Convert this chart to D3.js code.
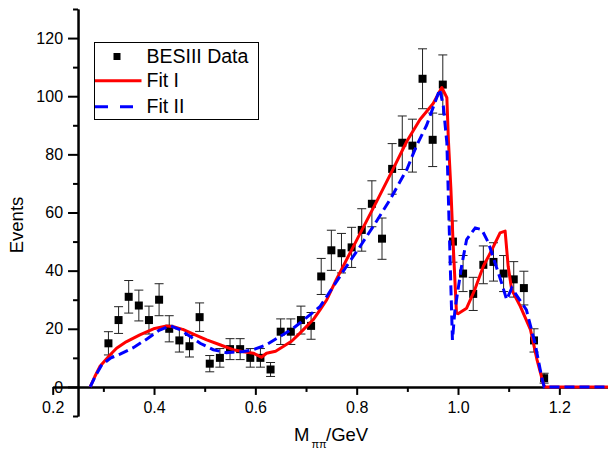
<!DOCTYPE html>
<html><head><meta charset="utf-8">
<script src="https://cdn.jsdelivr.net/npm/d3@7"></script>
<style>
body{margin:0;background:#fff;}
svg{display:block;font-family:Arial,"Liberation Sans",sans-serif;}
</style></head>
<body>
<svg id="chart" width="608" height="455"></svg>
<script>
// ---- data ----
const massBins = [0.31,0.33,0.35,0.37,0.39,0.41,0.43,0.45,0.47,0.49,0.51,0.53,0.55,0.57,0.59,0.61,0.63,0.65,0.67,0.69,0.71,0.73,0.75,0.77,0.79,0.81,0.83,0.85,0.87,0.89,0.91,0.93,0.95,0.97,0.99,1.01,1.03,1.05,1.07,1.09,1.11,1.13,1.15,1.17];
const events   = [15,23,31,28,23,30,20,16,14,24,8,10,13,13,10,10,6,19,19,23,21,38,47,46,48,54,63,51,75,84,83,106,85,104,50,39,32,42,43,39,37,34,16,3];
const errors   = [4,4.6,5.6,5.3,4.8,5.5,4.5,4,3.7,4.9,2.8,3.2,3.6,3.6,3.2,3.2,2.4,4.4,4.4,4.8,4.6,6.2,6.9,6.8,6.9,7.3,7.9,7.1,8.7,9.2,9.1,10.3,9.2,10.2,7.1,6.2,5.7,6.5,6.6,6.2,6.1,5.8,4,1.7];

const fit1X = [0.274,0.283,0.293,0.313,0.326,0.345,0.372,0.399,0.425,0.440,0.458,0.480,0.504,0.530,0.556,0.580,0.596,0.612,0.622,0.640,0.655,0.672,0.688,0.714,0.728,0.741,0.760,0.800,0.840,0.872,0.899,0.925,0.951,0.968,0.978,0.981,0.986,0.990,0.997,1.000,1.017,1.033,1.050,1.067,1.083,1.093,1.099,1.106,1.123,1.143,1.156,1.169,1.172,1.300];
const fit1Y = [0,3.5,7,11,13.3,15.5,17.9,20,21,20.6,19.7,18,16.2,14.5,12.8,12,11.6,10.2,11.6,12.3,13.9,15.8,18.5,23.1,26.6,30,37,50.5,64,75,84.5,92,97.5,103,99.5,85,68,50.7,25.4,25.2,27.1,33.4,41.5,47.2,53,53.6,41.5,33.4,27.7,19.7,9.3,0.7,0,0];

const fit2X = [0.274,0.285,0.297,0.315,0.333,0.359,0.386,0.410,0.432,0.451,0.471,0.491,0.517,0.543,0.576,0.596,0.622,0.649,0.675,0.688,0.728,0.754,0.780,0.807,0.833,0.866,0.899,0.918,0.938,0.964,0.971,0.978,0.985,0.989,0.994,1.007,1.017,1.034,1.047,1.060,1.073,1.086,1.096,1.106,1.135,1.152,1.165,1.170,1.300];
const fit2Y = [0,4,7.6,10,11.3,13.5,16.5,19.5,21,19.7,17.4,15,12.8,11.8,12.2,12.8,14.5,17.4,20.2,22,27.7,34.6,41.5,48.4,55.3,64.5,74.8,82.9,90,102.4,96.6,84,40,16.2,26.5,41.5,50.7,54.7,54.1,49.6,42.7,35.8,30,34,26.5,15,3.5,0,0];

const xMajorTicks = [0.2,0.4,0.6,0.8,1.0,1.2];
const xMinorTicks = [0.3,0.5,0.7,0.9,1.1,1.3];
const yMajorTicks = [0,20,40,60,80,100,120];
const yMinorTicks = [-10,10,30,50,70,90,110,130];

const legendLabels = ["BESIII Data","Fit I","Fit II"];

// ---- scales ----
const svg = d3.select("#chart");
const x = d3.scaleLinear().domain([0.2,1.3]).range([52.7,610]);
const y = d3.scaleLinear().domain([-10,130]).range([416,9]);
const xAxisAt = 0.25;

// ---- axes ----
const fmt = d3.format(".1f");
const gxMinor = svg.append("g").attr("transform",`translate(0,${y(0)})`)
  .call(d3.axisBottom(x).tickValues(xMinorTicks).tickSize(5).tickSizeOuter(0).tickFormat(""));
const gx = svg.append("g").attr("transform",`translate(0,${y(0)})`)
  .call(d3.axisBottom(x).tickValues(xMajorTicks).tickSize(8).tickSizeOuter(0).tickPadding(7).tickFormat(fmt));
const gyMinor = svg.append("g").attr("transform",`translate(${x(xAxisAt)},0)`)
  .call(d3.axisLeft(y).tickValues(yMinorTicks).tickSize(5).tickSizeOuter(0).tickFormat(""));
const gy = svg.append("g").attr("transform",`translate(${x(xAxisAt)},0)`)
  .call(d3.axisLeft(y).tickValues(yMajorTicks).tickSize(10).tickSizeOuter(0).tickPadding(5).tickFormat(d3.format("d")));

[gx,gxMinor,gy,gyMinor].forEach(g=>{
  g.selectAll("path.domain").attr("stroke","#000").attr("stroke-width",2);
  g.selectAll(".tick line").attr("stroke","#000").attr("stroke-width",2);
  g.selectAll("text").attr("fill","#000").style("font-size","16px").style("font-family","Arial,'Liberation Sans',sans-serif");
});

// axis titles
svg.append("text").attr("transform","translate(23,225) rotate(-90)")
  .attr("text-anchor","middle").style("font-size","18.5px").attr("fill","#000").text("Events");
const xt = svg.append("text").attr("fill","#000").style("font-size","18.5px");
xt.append("tspan").attr("x",294).attr("y",440.5).text("M");
xt.append("tspan").attr("x",311.5).attr("y",448).style("font-size","11px").text("ππ");
xt.append("tspan").attr("x",326).attr("y",440.5).text("/GeV");

// ---- data points with error bars ----
const pts = svg.append("g");
massBins.forEach((m,i)=>{
  const cx = x(m), v = events[i], e = errors[i];
  pts.append("line").attr("x1",cx).attr("x2",cx).attr("y1",y(v-e)).attr("y2",y(v+e)).attr("stroke","#222").attr("stroke-width",1);
  pts.append("line").attr("x1",cx-4.5).attr("x2",cx+4.5).attr("y1",y(v+e)).attr("y2",y(v+e)).attr("stroke","#222").attr("stroke-width",1);
  pts.append("line").attr("x1",cx-4.5).attr("x2",cx+4.5).attr("y1",y(v-e)).attr("y2",y(v-e)).attr("stroke","#222").attr("stroke-width",1);
  pts.append("rect").attr("x",cx-4).attr("y",y(v)-4).attr("width",8).attr("height",8).attr("fill","#000");
});

// ---- fit curves ----
const line = d3.line().x(d=>x(d[0])).y(d=>y(d[1]));
svg.append("path").datum(d3.zip(fit1X,fit1Y)).attr("d",line)
  .attr("fill","none").attr("stroke","#ff0000").attr("stroke-width",3).attr("stroke-linejoin","round");
svg.append("path").datum(d3.zip(fit2X,fit2Y)).attr("d",line)
  .attr("fill","none").attr("stroke","#0000ff").attr("stroke-width",3).attr("stroke-dasharray","10,5");

// ---- legend ----
const lg = svg.append("g");
lg.append("rect").attr("x",94.5).attr("y",42.5).attr("width",164).attr("height",77)
  .attr("fill","#fff").attr("stroke","#000").attr("stroke-width",1);
lg.append("rect").attr("x",113.5).attr("y",53).attr("width",7).attr("height",7).attr("fill","#000");
lg.append("line").attr("x1",95).attr("x2",141.5).attr("y1",80.7).attr("y2",80.7).attr("stroke","#ff0000").attr("stroke-width",3);
lg.append("line").attr("x1",95).attr("x2",135).attr("y1",106.7).attr("y2",106.7).attr("stroke","#0000ff").attr("stroke-width",3).attr("stroke-dasharray","13,12");
const lty = [62.7,87.3,113.3];
legendLabels.forEach((t,i)=>{
  lg.append("text").attr("x",146.5).attr("y",lty[i]).style("font-size","19.5px").attr("fill","#000").text(t);
});
</script>
</body></html>
